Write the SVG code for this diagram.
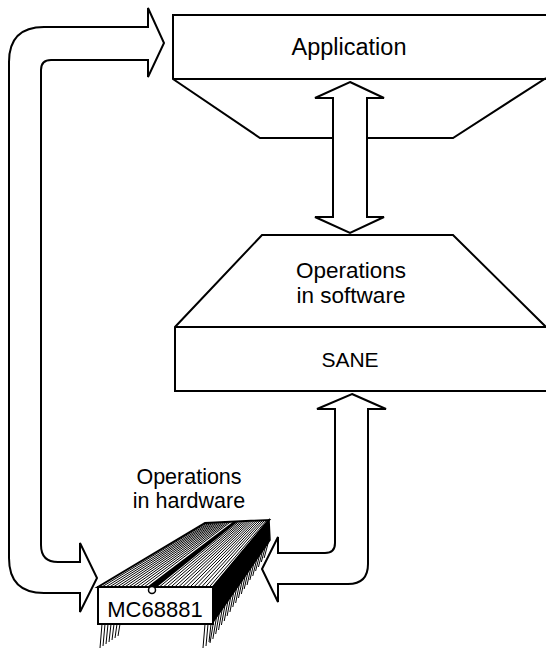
<svg xmlns="http://www.w3.org/2000/svg" width="546" height="652" viewBox="0 0 546 652">
  <style>
    .shape { fill: #fff; stroke: #000; stroke-width: 2; stroke-linejoin: miter; }
    .edge { fill: none; stroke: #000; stroke-width: 2; }
    .arrow { fill: #fff; stroke: #000; stroke-width: 2; stroke-linejoin: miter; }
    .label { font-family: "Liberation Sans", Arial, sans-serif; fill: #000; text-anchor: middle; }
    .hatch { fill: none; stroke: #000; stroke-width: 1; }
    .pins { fill: none; stroke: #000; stroke-width: 1; }
  </style>
  <rect width="546" height="652" fill="#fff"/>

  <g id="application">
    <path class="shape" d="M548,15 L173,15 L173,79 L260,138 L453,138 L546,78"/>
    <path class="edge" d="M173,79 L548,79"/>
    <text class="label" x="349" y="55" font-size="23.5">Application</text>
  </g>

  <g id="sane">
    <path class="shape" d="M548,391 L175,391 L175,327 L262,235 L453,235 L546,327"/>
    <path class="edge" d="M175,327 L548,327"/>
    <text class="label" x="351" y="278" font-size="22.5">Operations</text>
    <text class="label" x="351" y="303" font-size="22.5">in software</text>
    <text class="label" x="350" y="367" font-size="21">SANE</text>
  </g>

  <g id="mc68881">
    <text class="label" x="189" y="484" font-size="21.5">Operations</text>
    <text class="label" x="189" y="508" font-size="21.5">in hardware</text>
    <!-- pins -->
    <path class="pins" d="M214,619 l-4,24 m6.85,-28 l-4,24 m6.85,-28 l-4,23 m6.85,-27 l-4,23 m6.85,-27 l-4,22 m6.85,-26 l-4,22 m6.85,-26 l-4,21 m6.85,-25 l-4,21 m6.85,-25 l-4,20 m6.85,-24 l-4,20 m6.85,-24 l-4,19 m6.85,-23 l-4,19 m6.85,-23 l-4,18 m6.85,-22 l-4,18 m6.85,-22 l-4,17 m6.85,-21 l-4,17 m6.85,-21 l-4,16 m6.85,-20 l-4,16 m6.85,-20 l-4,15 m6.85,-19 l-4,15"/>
    <path class="pins" d="M102,624 l-2,24 m5,-24 l-2,22 m5,-22 l-2,20 m5,-20 l-2,18 m5,-18 l-2,16 m5,-16 l-2,14 m5,-14 l-2,12 M205,624 l-2,24 m5,-24 l-2,22 m5,-22 l-2,18"/>
    <!-- top surface -->
    <path class="shape" d="M98,587 L213,587 L269,520 L205,523 Z"/>
    <path class="hatch" d="M101.8,587 L207.1,522.9 M105.7,587 L209.3,522.8 M109.5,587 L211.4,522.7 M113.3,587 L213.5,522.6 M117.2,587 L215.7,522.5 M121,587 L217.8,522.4 M124.8,587 L219.9,522.3 M128.7,587 L222.1,522.2 M132.5,587 L224.2,522.1 M136.3,587 L226.3,522 M140.2,587 L228.5,521.9 M144,587 L230.6,521.8 M159.3,587 L239.1,521.4 M163.2,587 L241.3,521.3 M167,587 L243.4,521.2 M170.8,587 L245.5,521.1 M174.7,587 L247.7,521 M178.5,587 L249.8,520.9 M182.3,587 L251.9,520.8 M186.2,587 L254.1,520.7 M190,587 L256.2,520.6 M193.8,587 L258.3,520.5 M197.7,587 L260.5,520.4 M201.5,587 L262.6,520.3 M205.3,587 L264.7,520.2 M209.2,587 L266.9,520.1"/>
    <!-- centre groove and shaded side -->
    <path d="M147,587 L157,587 L238,521.5 L233,521.7 Z" fill="#000"/>
    <path d="M213,587 L269,520 L270,540 L213,622 Z" fill="#000" stroke="#000" stroke-width="1.5"/>
    <!-- front face with pin-1 notch -->
    <rect class="shape" x="98" y="587" width="115" height="37"/>
    <circle cx="152" cy="590" r="3.5" fill="#fff" stroke="#000" stroke-width="1.5"/>
    <text class="label" x="155" y="617" font-size="22">MC68881</text>
  </g>

  <!-- connectors: broad outline arrows, drawn over the node outlines -->
  <g id="connectors">
    <!-- chip output loops up to the application -->
    <path class="arrow" d="M148,8 L164,43 L148,77 L148,60 L51,60 Q41,60 41,70 L41,545 Q41,562 58,562 L80,562 L80,543 L97,578 L80,612 L80,593 L44,593 Q9,593 9,558 L9,62 Q9,27 44,27 L148,27 Z"/>
    <!-- application <-> software operations -->
    <path class="arrow" d="M350,82 L384,98 L367,98 L367,217 L384,217 L350,233 L315,217 L333,217 L333,98 L315,98 Z"/>
    <!-- SANE down to the chip -->
    <path class="arrow" d="M352,394 L386,409 L368,409 L368,564 Q368,584 348,584 L278,584 L278,602 L262,569 L278,537 L278,553 L325,553 Q335,553 335,543 L335,409 L317,409 Z"/>
  </g>
</svg>
